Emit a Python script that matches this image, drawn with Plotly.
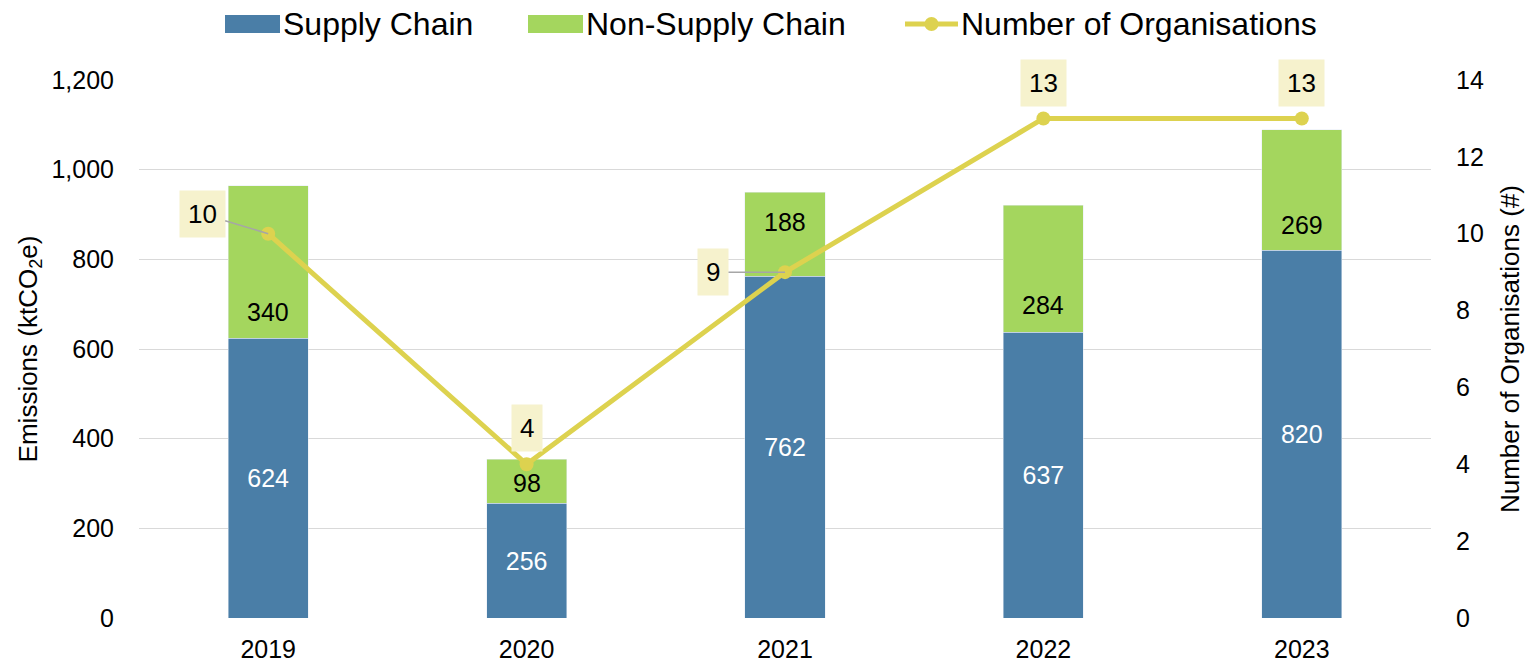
import plotly.graph_objects as go

years = ["2019", "2020", "2021", "2022", "2023"]
supply_chain = [624, 256, 762, 637, 820]
non_supply_chain = [340, 98, 188, 284, 269]
organisations = [10, 4, 9, 13, 13]

left_ticks = [0, 200, 400, 600, 800, 1000, 1200]
left_ticktext = ["0", "200", "400", "600", "800", "1,000", "1,200"]
right_ticks = [0, 2, 4, 6, 8, 10, 12, 14]

BLUE = "#4A7EA7"
GREEN = "#A4D65E"
YELLOW = "#DDD24F"
LABEL_BG = "#F6F2CD"
FONT = "Liberation Sans, Arial, sans-serif"

W, H = 1526, 662
ML, MR, MT, MB = 139, 95, 80, 44
PW, PH = W - ML - MR, H - MT - MB

xpos = list(range(len(years)))  # category index positions


def px_x(px):
    return (px - ML) / PW


def px_y(py):
    return (H - MB - py) / PH


fig = go.Figure()
fig.add_trace(go.Bar(
    x=xpos, y=supply_chain, name="Supply Chain", marker_color=BLUE,
    width=0.31, text=[str(v) for v in supply_chain], textposition="inside",
    insidetextanchor="middle", textangle=0, constraintext="none",
    textfont=dict(color="white", size=25, family=FONT),
))
fig.add_trace(go.Bar(
    x=xpos, y=non_supply_chain, name="Non-Supply Chain", marker_color=GREEN,
    width=0.31,
))
fig.add_trace(go.Scatter(
    x=xpos, y=organisations, name="Number of Organisations", yaxis="y2",
    mode="lines+markers", line=dict(color=YELLOW, width=5),
    marker=dict(color=YELLOW, size=14),
))

# Non-supply chain labels (placed above the segment base, as in the original)
ns_shift = [26, 20, 54, 27, 25]
for xi, base, val, sh in zip(xpos, supply_chain, non_supply_chain, ns_shift):
    fig.add_annotation(x=xi, y=base, xref="x", yref="y", text=str(val),
                       showarrow=False, yshift=sh,
                       font=dict(size=25, color="black", family=FONT))

# Organisation labels
org_offsets = [(-66, -20, True), (0, -36, False), (-72, 0, True), (0, -35, False), (0, -35, False)]
for xi, val, (ax, ay, arrow) in zip(xpos, organisations, org_offsets):
    if arrow:
        fig.add_annotation(x=xi, y=val, xref="x", yref="y2", text=str(val),
                           showarrow=True, ax=ax, ay=ay, arrowhead=0,
                           arrowwidth=1.5, arrowcolor="#A6A6A6", standoff=0,
                           bgcolor=LABEL_BG, borderpad=8,
                           font=dict(size=26, color="black", family=FONT))
    else:
        fig.add_annotation(x=xi, y=val, xref="x", yref="y2", text=str(val),
                           showarrow=False, yshift=-ay,
                           bgcolor=LABEL_BG, borderpad=8,
                           font=dict(size=26, color="black", family=FONT))

# Custom legend (swatches + labels)
leg_y = 24
legend_items = [
    ("rect", BLUE, 225, 280, "Supply Chain", 282),
    ("rect", GREEN, 528, 583, "Non-Supply Chain", 585),
    ("line", YELLOW, 905, 958, "Number of Organisations", 960),
]
for kind, col, x0, x1, label, tx in legend_items:
    if kind == "rect":
        fig.add_shape(type="rect", xref="paper", yref="paper",
                      x0=px_x(x0), x1=px_x(x1), y0=px_y(leg_y + 9), y1=px_y(leg_y - 9),
                      fillcolor=col, line=dict(width=0), layer="above")
    else:
        fig.add_shape(type="line", xref="paper", yref="paper",
                      x0=px_x(x0), x1=px_x(x1), y0=px_y(leg_y), y1=px_y(leg_y),
                      line=dict(color=col, width=5), layer="above")
        xc = (x0 + x1) / 2
        fig.add_shape(type="circle", xref="paper", yref="paper",
                      x0=px_x(xc - 7), x1=px_x(xc + 7), y0=px_y(leg_y + 7), y1=px_y(leg_y - 7),
                      fillcolor=col, line=dict(width=0), layer="above")
    fig.add_annotation(xref="paper", yref="paper", x=px_x(tx), y=px_y(leg_y),
                       xanchor="left", yanchor="middle", text=label, showarrow=False,
                       font=dict(size=32, color="black", family=FONT), borderpad=0)

fig.update_layout(
    width=W, height=H,
    barmode="stack",
    plot_bgcolor="white", paper_bgcolor="white",
    margin=dict(l=ML, r=MR, t=MT, b=MB, autoexpand=False),
    font=dict(family=FONT, size=25, color="black"),
    showlegend=False,
    xaxis=dict(range=[-0.5, len(years) - 0.5], tickvals=xpos, ticktext=years,
               showgrid=False, showline=False, zeroline=False, ticks="",
               tickfont=dict(size=25), ticklabelstandoff=14),
    yaxis=dict(range=[0, 1200], tickvals=left_ticks, ticktext=left_ticktext,
               showgrid=True, gridcolor="#D9D9D9", gridwidth=1,
               zeroline=False, showline=False, ticks="",
               tickfont=dict(size=25), ticklabelstandoff=24,
               title=dict(text="Emissions (ktCO<sub>2</sub>e)", font=dict(size=26),
                          standoff=6)),
    yaxis2=dict(range=[0, 14], tickvals=right_ticks, overlaying="y", side="right",
                showgrid=False, zeroline=False, showline=False, ticks="",
                tickfont=dict(size=25), ticklabelstandoff=24,
                title=dict(text="Number of Organisations (#)", font=dict(size=26),
                           standoff=17)),
)

fig.write_html(
    "out.html",
    config={"responsive": False, "displayModeBar": False},
    post_script="document.body.style.margin='0';document.body.style.overflow='hidden';",
)
